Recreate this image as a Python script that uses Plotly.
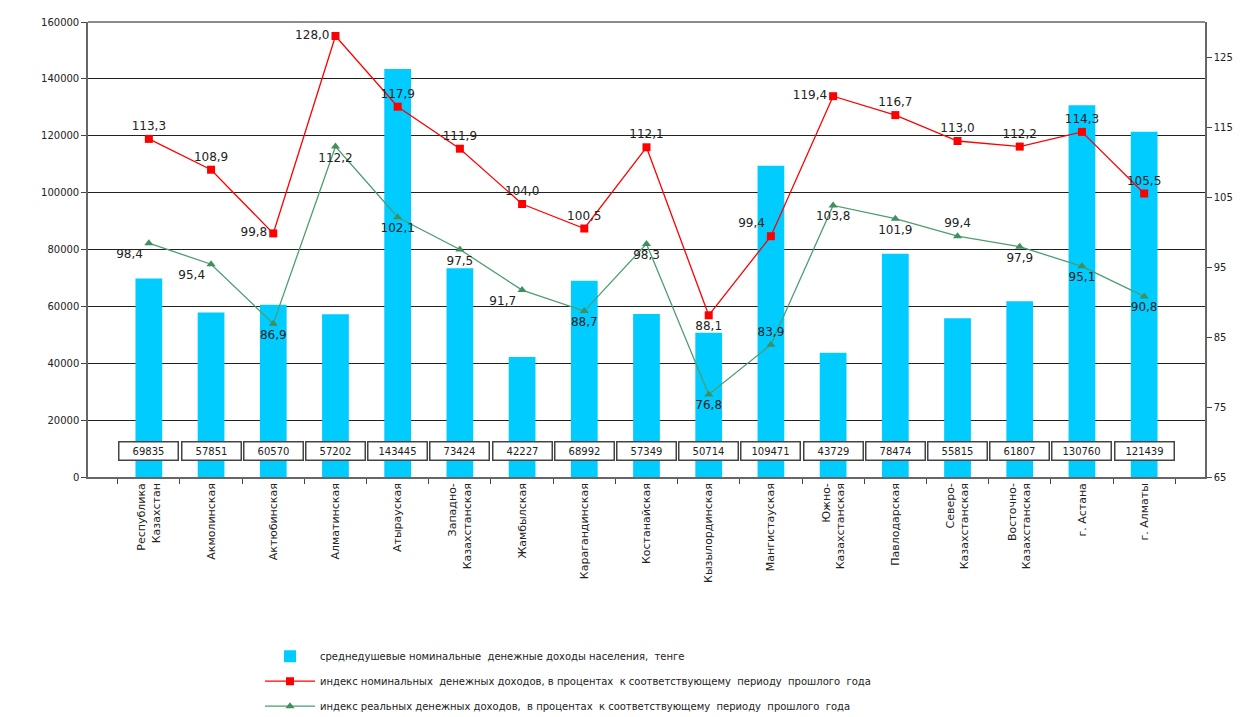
import plotly.graph_objects as go

regions = [
    "Республика<br>Казахстан", "Акмолинская", "Актюбинская", "Алматинская",
    "Атырауская", "Западно-<br>Казахстанская", "Жамбылская", "Карагандинская",
    "Костанайская", "Кызылординская", "Мангистауская", "Южно-<br>Казахстанская",
    "Павлодарская", "Северо-<br>Казахстанская", "Восточно-<br>Казахстанская",
    "г. Астана", "г. Алматы",
]
income = [69835, 57851, 60570, 57202, 143445, 73424, 42227, 68992, 57349,
          50714, 109471, 43729, 78474, 55815, 61807, 130760, 121439]
nominal_index = [113.3, 108.9, 99.8, 128.0, 117.9, 111.9, 104.0, 100.5, 112.1,
                 88.1, 99.4, 119.4, 116.7, 113.0, 112.2, 114.3, 105.5]
real_index = [98.4, 95.4, 86.9, 112.2, 102.1, 97.5, 91.7, 88.7, 98.3,
              76.8, 83.9, 103.8, 101.9, 99.4, 97.9, 95.1, 90.8]

left_ticks = [0, 20000, 40000, 60000, 80000, 100000, 120000, 140000, 160000]
right_ticks = [65, 75, 85, 95, 105, 115, 125]

# label placement (style only)
nominal_pos = ["top center", "top center", "middle left", "middle left", "top center",
               "top center", "top center", "top center", "top center", "bottom center",
               "top left", "middle left", "top center", "top center", "top center",
               "top center", "top center"]
real_pos = ["bottom left", "bottom left", "bottom center", "bottom center", "bottom center",
            "bottom center", "bottom left", "bottom center", "bottom center", "bottom center",
            "top center", "bottom center", "bottom center", "top center", "bottom center",
            "bottom center", "bottom center"]

FONT = "DejaVu Sans"


def fmt(v):
    return f"{v:.1f}".replace(".", ",")


fig = go.Figure()
fig.add_trace(go.Bar(
    x=regions, y=income, width=0.43,
    marker=dict(color="#00ccff", line=dict(width=0)),
    name="среднедушевые номинальные  денежные доходы населения,  тенге",
    legendgroup="a", yaxis="y",
))
fig.add_trace(go.Scatter(
    x=regions, y=nominal_index, yaxis="y2", mode="lines+markers+text",
    line=dict(color="#ff0000", width=1.3),
    marker=dict(symbol="square", size=8, color="#ff0000"),
    text=[fmt(v) for v in nominal_index], textposition=nominal_pos,
    textfont=dict(family=FONT, size=12, color="#222222"),
    name="индекс номинальных  денежных доходов, в процентах  к соответствующему  периоду  прошлого  года",
    legendgroup="b",
))
fig.add_trace(go.Scatter(
    x=regions, y=real_index, yaxis="y2", mode="lines+markers+text",
    line=dict(color="#4c9e6e", width=1.3),
    marker=dict(symbol="triangle-up", size=8, color="#3f8f5f"),
    text=[fmt(v) for v in real_index], textposition=real_pos,
    textfont=dict(family=FONT, size=12, color="#222222"),
    name="индекс реальных денежных доходов,  в процентах  к соответствующему  периоду  прошлого  года",
    legendgroup="c",
))

for reg, val in zip(regions, income):
    fig.add_annotation(
        x=reg, y=9100, xref="x", yref="y", text=str(val), showarrow=False,
        font=dict(family=FONT, size=10, color="#222222"),
        bgcolor="white", bordercolor="#444444", borderwidth=1.5, borderpad=3, width=52,
    )

# page body adds an 8px offset; figure height leaves room so the legend
# does not push the plot area up
fig.update_layout(
    width=1242, height=736,
    margin=dict(l=80, r=45, t=14, b=267),
    plot_bgcolor="white", paper_bgcolor="white",
    font=dict(family=FONT, size=10, color="#222222"),
    xaxis=dict(
        tickangle=-90, ticks="outside", tickson="boundaries", ticklen=5,
        showline=True, linecolor="#666666", linewidth=1.5,
        tickfont=dict(size=11), showgrid=False, automargin=False,
    ),
    yaxis=dict(
        range=[0, 160000], tickvals=left_ticks, tickformat="d", ticks="outside", ticklen=5,
        showline=True, linecolor="#666666", linewidth=1.5,
        showgrid=True, gridcolor="#222222", gridwidth=1.2,
        tickfont=dict(size=10), zeroline=False, automargin=False,
    ),
    yaxis2=dict(
        range=[65, 130], tickvals=right_ticks, overlaying="y", side="right",
        ticks="outside", ticklen=5, showline=True, linecolor="#666666", linewidth=1.5,
        showgrid=False, zeroline=False, tickfont=dict(size=10), automargin=False,
    ),
    showlegend=True,
    legend=dict(
        x=0.154, y=-0.362, xanchor="left", yanchor="top",
        font=dict(size=10), tracegroupgap=6, itemwidth=50,
        bgcolor="rgba(0,0,0,0)",
    ),
    shapes=[dict(type="line", xref="paper", yref="paper", x0=0, x1=1, y0=1, y1=1,
                 line=dict(color="#666666", width=1.5))],
)

fig.write_html("out.html")
